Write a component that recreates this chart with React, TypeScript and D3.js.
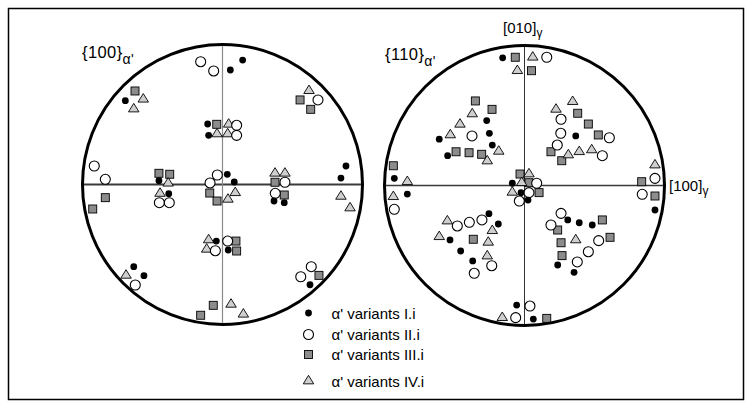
import React from "react";
import * as d3 from "d3";

// Stereographic projection coordinates (unit circle), [x, y], y up
// {100} pole figure
const left_I: [number, number][] = [
  [-0.694, 0.599], [0.056, 0.818], [0.144, 0.889], [-0.106, 0.432], [-0.099, 0.351],
  [-0.454, 0.027], [-0.384, -0.066], [-0.634, -0.587], [-0.561, -0.651], [0.034, 0.073],
  [0.084, 0.018], [0.368, -0.118], [0.441, -0.13], [-0.044, -0.404], [0.041, -0.468],
  [0.625, -0.716], [0.882, 0.132], [0.846, 0.046],
];
const left_II: [number, number][] = [
  [-0.156, 0.877], [-0.063, 0.811], [0.682, 0.604], [0.101, 0.423], [0.101, 0.351],
  [-0.916, 0.132], [-0.837, 0.037], [-0.451, -0.13], [-0.38, -0.13], [-0.623, -0.718],
  [-0.037, 0.068], [-0.089, 0.011], [0.446, 0.016], [0.377, -0.063], [0.037, -0.404],
  [-0.051, -0.473], [0.634, -0.587], [0.559, -0.659],
];
const left_III: [number, number][] = [
  [-0.625, 0.668], [0.554, 0.604], [0.63, 0.537], [-0.041, 0.43], [-0.837, -0.094],
  [-0.927, -0.175], [-0.454, 0.08], [-0.377, 0.073], [-0.091, -0.061], [-0.039, -0.118],
  [0.375, 0.016], [0.441, -0.075], [0.096, -0.404], [0.101, -0.475], [-0.066, -0.863],
  [-0.156, -0.934], [0.689, -0.649],
];
const left_IV: [number, number][] = [
  [-0.566, 0.609], [-0.634, 0.539], [0.618, 0.67], [0.044, 0.43], [-0.039, 0.361],
  [0.037, 0.361], [-0.388, 0.009], [-0.446, -0.064], [-0.689, -0.649], [0.091, -0.059],
  [0.039, -0.106], [0.375, 0.08], [0.446, 0.08], [-0.099, -0.396], [-0.113, -0.463],
  [0.061, -0.856], [0.149, -0.927], [0.846, -0.085], [0.911, -0.168],
];

// {110} pole figure
const right_I: [number, number][] = [
  [-0.156, 0.912], [-0.27, 0.464], [-0.609, 0.331], [-0.251, 0.373], [-0.23, 0.289],
  [-0.549, 0.213], [-0.93, 0.051], [-0.837, -0.061], [-0.254, -0.201], [-0.187, -0.275],
  [-0.532, -0.389], [-0.456, -0.468], [-0.37, -0.539], [-0.056, -0.854], [0.063, -0.954],
  [0.932, -0.175], [0.309, -0.246], [0.391, -0.266], [0.484, -0.282], [0.237, -0.568],
  [0.354, -0.62], [-0.025, -0.051], [0.025, -0.104], [-0.087, 0.016], [0.366, 0.354],
];
const right_II: [number, number][] = [
  [0.159, 0.916], [-0.375, 0.354], [-0.93, -0.17], [-0.48, -0.289], [-0.394, -0.263],
  [-0.304, -0.246], [-0.234, -0.573], [-0.359, -0.627], [0.039, -0.861], [-0.063, -0.944],
  [0.932, 0.051], [0.841, -0.063], [0.261, -0.199], [0.189, -0.282], [0.53, -0.394],
  [0.456, -0.473], [0.377, -0.546], [0.087, 0.016], [0.032, -0.051], [-0.037, -0.111],
  [0.261, 0.473], [0.259, 0.373], [0.606, 0.341], [0.234, 0.289], [0.556, 0.213],
];
const right_III: [number, number][] = [
  [-0.066, 0.916], [0.05, 0.82], [-0.351, 0.604], [-0.232, 0.544], [-0.489, 0.241],
  [-0.396, 0.234], [-0.306, 0.223], [-0.937, 0.141], [-0.032, 0.082], [0.032, 0.02],
  [0.104, -0.051], [-0.366, -0.384], [0.159, -0.949], [0.837, 0.027], [0.932, -0.075],
  [0.556, -0.246], [0.237, -0.318], [0.261, -0.409], [0.611, -0.37], [0.268, -0.501],
  [0.38, 0.516], [0.456, 0.439], [0.527, 0.361], [0.189, 0.241], [0.266, 0.177],
];
const right_IV: [number, number][] = [
  [0.059, 0.916], [-0.051, 0.82], [-0.373, 0.511], [-0.461, 0.437], [-0.53, 0.361],
  [-0.184, 0.244], [-0.266, 0.175], [-0.837, 0.027], [-0.937, -0.08], [0.032, 0.082],
  [-0.02, 0.02], [-0.087, -0.049], [-0.551, -0.254], [-0.23, -0.323], [-0.609, -0.366],
  [-0.259, -0.406], [-0.266, -0.504], [-0.159, -0.944], [0.932, 0.146], [0.366, -0.389],
  [0.344, 0.599], [0.225, 0.544], [0.313, 0.218], [0.391, 0.241], [0.48, 0.254],
];

const legendLabels = ["I.i", "II.i", "III.i", "IV.i"];

const FONT = "'Liberation Sans', Arial, sans-serif";

type Kind = "dot" | "open" | "square" | "tri";

function Marker({ kind, x, y }: { kind: Kind; x: number; y: number }) {
  if (kind === "dot") return <circle cx={x} cy={y} r={3.4} fill="#000" />;
  if (kind === "open")
    return <circle cx={x} cy={y} r={5} fill="#fff" stroke="#000" strokeWidth={1.1} />;
  if (kind === "square")
    return (
      <rect x={x - 4} y={y - 4} width={8} height={8} fill="#8c8c8c" stroke="#000" strokeWidth={0.9} />
    );
  const w = 10.5, h = 8.5;
  const p = d3.path();
  p.moveTo(x, y - (h * 2) / 3);
  p.lineTo(x + w / 2, y + h / 3);
  p.lineTo(x - w / 2, y + h / 3);
  p.closePath();
  return <path d={p.toString()} fill="#cfcfcf" stroke="#000" strokeWidth={0.9} />;
}

function Pole({
  cx, cy, r, sets, hStroke, hWidth, vStroke, vWidth,
}: {
  cx: number; cy: number; r: number;
  sets: { kind: Kind; pts: [number, number][] }[];
  hStroke: string; hWidth: number; vStroke: string; vWidth: number;
}) {
  const x = d3.scaleLinear().domain([-1, 1]).range([cx - r, cx + r]);
  const y = d3.scaleLinear().domain([-1, 1]).range([cy + r, cy - r]);
  return (
    <g>
      <line x1={x(-1)} x2={x(1)} y1={y(0)} y2={y(0)} stroke={hStroke} strokeWidth={hWidth} />
      <line x1={x(0)} x2={x(0)} y1={y(1)} y2={y(-1)} stroke={vStroke} strokeWidth={vWidth} />
      {sets.map((s, i) => (
        <g key={i}>
          {s.pts.map((d, j) => (
            <Marker key={j} kind={s.kind} x={x(d[0])} y={y(d[1])} />
          ))}
        </g>
      ))}
      <circle cx={cx} cy={cy} r={r} fill="none" stroke="#000" strokeWidth={3} />
    </g>
  );
}

export default function App() {
  const kinds: Kind[] = ["dot", "open", "square", "tri"];
  const legendY = d3.scaleOrdinal<string, number>().domain(legendLabels).range([313, 334.5, 354.5, 381]);
  return (
    <div style={{ position: "absolute", left: 0, top: 0 }}>
      <svg width={752} height={408} style={{ display: "block", background: "#fff" }} fontFamily={FONT}>
        <rect x={8.5} y={8.5} width={735} height={391} fill="#fff" stroke="#000" strokeWidth={1.5} />
        <Pole
          cx={222.5} cy={184.5} r={140}
          hStroke="#3a3a3a" hWidth={2} vStroke="#8a8a8a" vWidth={1.2}
          sets={[
            { kind: "square", pts: left_III },
            { kind: "tri", pts: left_IV },
            { kind: "open", pts: left_II },
            { kind: "dot", pts: left_I },
          ]}
        />
        <Pole
          cx={524.5} cy={185.5} r={140}
          hStroke="#3a3a3a" hWidth={1.6} vStroke="#333" vWidth={1}
          sets={[
            { kind: "square", pts: right_III },
            { kind: "tri", pts: right_IV },
            { kind: "open", pts: right_II },
            { kind: "dot", pts: right_I },
          ]}
        />
        {/* labels */}
        <text x={82} y={58} fontSize={16.5} letterSpacing={0.4}>
          {"{100}"}
          <tspan fontSize={14} dy={6}>{"α'"}</tspan>
        </text>
        <text x={385} y={60} fontSize={16.5} letterSpacing={0.4}>
          {"{110}"}
          <tspan fontSize={14} dy={6}>{"α'"}</tspan>
        </text>
        <text x={503} y={33} fontSize={15}>
          {"[010]"}
          <tspan fontSize={12} dy={4}>{"γ"}</tspan>
        </text>
        <text x={669} y={191} fontSize={15}>
          {"[100]"}
          <tspan fontSize={12} dy={4}>{"γ"}</tspan>
        </text>
        {/* legend */}
        {legendLabels.map((l, i) => (
          <g key={l}>
            <Marker kind={kinds[i]} x={308.5} y={legendY(l)} />
            <text x={331.5} y={legendY(l) + 5.5} fontSize={15}>
              {"α' variants " + l}
            </text>
          </g>
        ))}
      </svg>
    </div>
  );
}
